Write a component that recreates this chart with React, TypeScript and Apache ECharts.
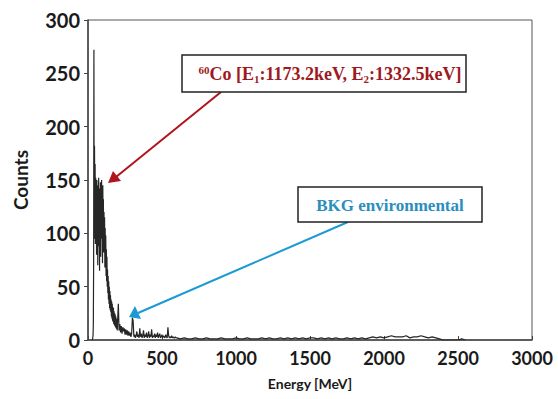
import React, { useEffect, useRef } from "react";
import * as echarts from "echarts";

// Channel energies are start + i*step for each segment; counts
const segAStart = 30, segAStep = 2;
const segACounts = [
  0, 0, 4, 15, 70, 272, 95, 182, 120, 165,
  90, 152, 115, 140, 80, 150, 100, 135, 70, 145,
  110, 152, 88, 130, 65, 142, 105, 148, 78, 125,
  95, 150, 100, 138, 72, 145, 108, 132, 82, 120,
  88, 115, 68, 105, 78, 98, 60, 85, 55, 78,
  50, 66, 44, 60, 38, 55, 34, 50, 30, 46,
  28, 42, 26, 38, 22, 36, 20, 34, 18, 31,
  17, 30, 15, 27, 14, 25, 13, 24, 12, 22,
  11, 20, 10, 19, 9, 18,
];
const segBStart = 205, segBStep = 5;
const segBCounts = [
  34, 9, 15, 7, 13, 6, 12, 8, 11, 5,
  10, 5, 9, 4, 8, 4, 7, 3, 6, 21,
  18, 3, 5, 2, 4, 8, 3, 5, 2, 11,
  3, 6, 2, 4, 9, 2, 5, 3, 7, 2,
  4, 8, 2, 5, 3, 10, 2, 4, 3, 6,
  2, 5, 3, 7, 2, 4, 6, 2, 3, 5,
  2, 4, 3, 2, 5, 3, 2, 12, 4, 2,
  3, 2, 4, 2, 3, 2, 2, 3, 2, 2,
];
const segCStart = 625, segCStep = 25;
const segCCounts = [
  1, 2, 1, 1, 2, 1, 1, 2, 1, 1,
  1, 2, 1, 1, 1, 2, 1, 1, 2, 1,
  1, 1, 2, 1, 2, 1, 1, 2, 1, 2,
  1, 2, 1, 2, 1, 2, 2, 1, 2, 1,
  2, 1, 2, 1, 1, 2, 1, 2, 1, 2,
  1, 2, 3, 2, 3, 2, 3, 4, 3, 3,
  3, 4, 2, 3, 3, 4, 3, 2, 3, 2,
  1, 0, 0, 0, 0, 0, 1, 0,
];

const xTicks = [0, 500, 1000, 1500, 2000, 2500, 3000];
const yTicks = [0, 50, 100, 150, 200, 250, 300];

const coLabel = ["60", "Co [E", "1", ":1173.2keV, E", "2", ":1332.5keV]"];
const bkgLabel = "BKG environmental";
const xName = "Energy [MeV]";
const yName = "Counts";

function buildSpectrum(): [number, number][] {
  const out: [number, number][] = [];
  segACounts.forEach((c, i) => out.push([segAStart + i * segAStep, c]));
  segBCounts.forEach((c, i) => out.push([segBStart + i * segBStep, c]));
  segCCounts.forEach((c, i) => out.push([segCStart + i * segCStep, c]));
  return out;
}

export default function App() {
  const ref = useRef<HTMLDivElement>(null);
  useEffect(() => {
    if (!ref.current) return;
    const chart = echarts.init(ref.current, null, { renderer: "svg" });
    const axisFont = { fontFamily: "Lato", fontWeight: "bold" as const, color: "#1a1a1a" };
    const red = "#b0141e";
    const redText = "#9e1a22";
    const blue = "#1d9ad3";
    const blueText = "#2a8ebf";
    const serif = "Liberation Serif";
    chart.setOption({
      animation: false,
      backgroundColor: "#fff",
      grid: {
        left: 88, top: 20, right: 26, bottom: 59,
        show: true, borderColor: "#555", borderWidth: 1,
      },
      xAxis: {
        type: "value", min: xTicks[0], max: xTicks[xTicks.length - 1], interval: 500,
        splitLine: { show: false },
        axisLine: { lineStyle: { color: "#444", width: 1.5 } },
        axisTick: { inside: true, length: 4, lineStyle: { color: "#444" } },
        axisLabel: { ...axisFont, fontSize: 18, margin: 9, formatter: (v: number) => String(v) },
        name: xName, nameLocation: "middle", nameGap: 36,
        nameTextStyle: { ...axisFont, fontSize: 14 },
      },
      yAxis: {
        type: "value", min: yTicks[0], max: yTicks[yTicks.length - 1], interval: 50,
        splitLine: { show: false },
        axisLine: { show: true, lineStyle: { color: "#444", width: 1.5 } },
        axisTick: { show: true, inside: false, length: 4, lineStyle: { color: "#444" } },
        axisLabel: { ...axisFont, fontSize: 20, margin: 8, formatter: (v: number) => String(v) },
        name: yName, nameLocation: "middle", nameGap: 58,
        nameTextStyle: { ...axisFont, fontSize: 19 },
      },
      series: [
        {
          type: "line",
          data: buildSpectrum(),
          symbol: "none",
          lineStyle: { color: "#262626", width: 1.2 },
          z: 3,
        },
      ],
      graphic: [
        // red arrow
        { type: "line", shape: { x1: 221, y1: 92, x2: 116, y2: 177 }, style: { stroke: red, lineWidth: 2 }, z: 10 },
        { type: "polygon", shape: { points: [[108, 183], [113, 171], [121, 181]] }, style: { fill: red }, z: 10 },
        // blue arrow
        { type: "line", shape: { x1: 348, y1: 222, x2: 138, y2: 313 }, style: { stroke: blue, lineWidth: 2 }, z: 10 },
        { type: "polygon", shape: { points: [[129, 317], [135, 306], [141, 319]] }, style: { fill: blue }, z: 10 },
        // Co box
        { type: "rect", shape: { x: 182, y: 55, width: 284, height: 37 }, style: { fill: "#fff", stroke: "#222", lineWidth: 1.5 }, z: 11 },
        {
          type: "text", x: 330, y: 74, z: 12,
          style: {
            text: `{sup|${coLabel[0]}}{b|${coLabel[1]}}{sub|${coLabel[2]}}{b|${coLabel[3]}}{sub|${coLabel[4]}}{b|${coLabel[5]}}`,
            align: "center", verticalAlign: "middle",
            rich: {
              b: { fontFamily: serif, fontWeight: "bold", fontSize: 18, fill: redText, lineHeight: 20, verticalAlign: "middle" },
              sup: { fontFamily: serif, fontWeight: "bold", fontSize: 11, fill: redText, lineHeight: 20, verticalAlign: "top", padding: [0, 0, 8, 0] },
              sub: { fontFamily: serif, fontWeight: "bold", fontSize: 11, fill: redText, lineHeight: 20, verticalAlign: "bottom", padding: [8, 0, 0, 0] },
            },
          },
        },
        // BKG box
        { type: "rect", shape: { x: 298, y: 187, width: 184, height: 35 }, style: { fill: "#fff", stroke: "#222", lineWidth: 1.5 }, z: 11 },
        {
          type: "text", x: 390, y: 205, z: 12,
          style: {
            text: bkgLabel, align: "center", verticalAlign: "middle",
            fontFamily: serif, fontWeight: "bold", fontSize: 17, fill: blueText,
          },
        },
      ],
    });
    return () => chart.dispose();
  }, []);
  return <div ref={ref} style={{ width: 558, height: 399, position: "absolute", left: 0, top: 0 }} />;
}
